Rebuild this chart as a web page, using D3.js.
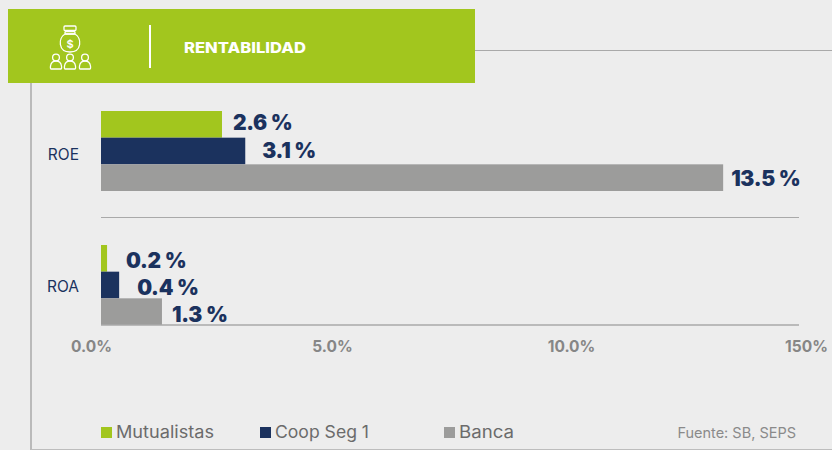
<!DOCTYPE html>
<html><head><meta charset="utf-8">
<script src="https://cdn.jsdelivr.net/npm/d3@7/dist/d3.min.js"></script>
<style>html,body{margin:0;padding:0;background:#ededed}svg{display:block}text{font-family:Inter,"Open Sans",sans-serif}</style>
</head><body><svg id="c" width="832" height="450"></svg>
<script>
const categories = ["ROE","ROA"];
const seriesNames = ["Mutualistas","Coop Seg 1","Banca"];
const mutualistas = [2.6,0.13];
const coopSeg1 = [3.1,0.39];
const banca = [13.37,1.31];
const mutualistasLabels = ["2.6 %","0.2 %"];
const coopSeg1Labels = ["3.1 %","0.4 %"];
const bancaLabels = ["13.5 %","1.3 %"];
const tickLabels = ["0.0%","5.0%","10.0%","150%"];
const title = "RENTABILIDAD";
const source = "Fuente: SB, SEPS";
const colors = ["#a2c61e","#1b325e","#9c9c9b"];

const seriesValues=[mutualistas,coopSeg1,banca];
const seriesLabels=[mutualistasLabels,coopSeg1Labels,bancaLabels];
const svg=d3.select("#c");
const line="#a9a9a9";
const x=d3.scaleLinear().domain([0,15]).range([101,799]);
const y0=d3.scaleBand().domain(categories).range([111,325]).paddingInner(0.403);
const y1=d3.scaleBand().domain(seriesNames).range([0,y0.bandwidth()]);

// frame
svg.append("line").attr("x1",31).attr("x2",31).attr("y1",80).attr("y2",450).attr("stroke",line).attr("stroke-width",1.5);
svg.append("line").attr("x1",470).attr("x2",832).attr("y1",50.5).attr("y2",50.5).attr("stroke",line);
svg.append("line").attr("x1",31).attr("x2",832).attr("y1",449.5).attr("y2",449.5).attr("stroke","#bdbdbd");

// banner
svg.append("rect").attr("x",8).attr("y",9).attr("width",467).attr("height",74).attr("fill",colors[0]);
svg.append("line").attr("x1",150).attr("x2",150).attr("y1",25).attr("y2",68).attr("stroke","#fff").attr("stroke-width",2);
svg.append("text").attr("x",184).attr("y",53).attr("fill","#fff").attr("font-size",15).attr("font-weight",800).attr("textLength",122).attr("lengthAdjust","spacingAndGlyphs").text(title);
const ic=svg.append("g").attr("fill","none").attr("stroke","#fff").attr("stroke-width",1.3).attr("stroke-linejoin","round");
ic.append("rect").attr("x",64).attr("y",26).attr("width",12).attr("height",4.5).attr("rx",1);
ic.append("rect").attr("x",65).attr("y",31.5).attr("width",10).attr("height",2.5).attr("rx",1);
ic.append("path").attr("d","M65 34 C58 38 58 52 70 52 C82 52 82 38 75 34 Z");
svg.append("text").attr("x",70).attr("y",48).attr("text-anchor","middle").attr("fill","#fff").attr("font-size",11).attr("font-weight",600).text("$");
[56,70,85].forEach(cx=>{
  ic.append("circle").attr("cx",cx).attr("cy",57.5).attr("r",3.4);
  ic.append("path").attr("d",`M${cx-5} 69 Q${cx-5.8} 69 ${cx-5.5} 66 C${cx-5} 62.5 ${cx-3} 61 ${cx} 61 C${cx+3} 61 ${cx+5} 62.5 ${cx+5.5} 66 Q${cx+5.8} 69 ${cx+5} 69 Z`);
});

// separator
svg.append("line").attr("x1",x(0)).attr("x2",x(15)).attr("y1",217.5).attr("y2",217.5).attr("stroke",line);

// bars
const valueDx=[[11,19],[17,18],[8,10]];
const valueDy=[[-2,2],[0,2],[1,3]];
seriesNames.forEach((s,i)=>{
  const g=svg.append("g");
  g.selectAll("rect").data(categories).join("rect")
    .attr("x",x(0)).attr("y",c=>y0(c)+y1(s)).attr("height",y1.bandwidth())
    .attr("width",(c,k)=>x(seriesValues[i][k])-x(0)).attr("fill",colors[i]);
  g.selectAll("text").data(categories).join("text")
    .attr("x",(c,k)=>x(seriesValues[i][k])+valueDx[i][k])
    .attr("y",(c,k)=>y0(c)+y1(s)+y1.bandwidth()/2+7.5+valueDy[i][k])
    .attr("fill",colors[1]).attr("font-size",21).attr("font-weight",900).attr("letter-spacing",-0.3)
    .text((c,k)=>seriesLabels[i][k]);
});

// category axis labels
const catDy=[9,7];
svg.selectAll(".cat").data(categories).join("text").attr("class","cat")
  .attr("x",79).attr("text-anchor","end").attr("y",(c,k)=>y0(c)+y0.bandwidth()/2+catDy[k])
  .attr("fill",colors[1]).attr("font-size",15.5).text(c=>c);

// value axis
svg.append("line").attr("x1",x(0)).attr("x2",x(15)).attr("y1",325).attr("y2",325).attr("stroke",line).attr("stroke-width",1.5);
const tickScale=d3.scaleOrdinal().domain(tickLabels).range([91,332,571,806]);
const axis=svg.append("g").attr("transform","translate(0,325)").call(d3.axisBottom(tickScale).tickSize(0).tickPadding(16));
axis.select(".domain").remove();
axis.selectAll("text").attr("fill","#868686").attr("font-size",15.5).attr("font-weight",700).style("font-family","Inter");

// legend
const legendX=[101,260,444], legendText=[116,275,459], legendW=[98,94,55];
seriesNames.forEach((s,i)=>{
  svg.append("rect").attr("x",legendX[i]).attr("y",427).attr("width",11).attr("height",11).attr("fill",colors[i]);
  svg.append("text").attr("x",legendText[i]).attr("y",438).attr("fill","#6b6b6b").attr("font-size",17).attr("textLength",legendW[i]).attr("lengthAdjust","spacingAndGlyphs").text(s);
});
svg.append("text").attr("x",796).attr("y",438).attr("text-anchor","end").attr("fill","#8a8a8a").attr("font-size",14.5).text(source);
</script></body></html>
